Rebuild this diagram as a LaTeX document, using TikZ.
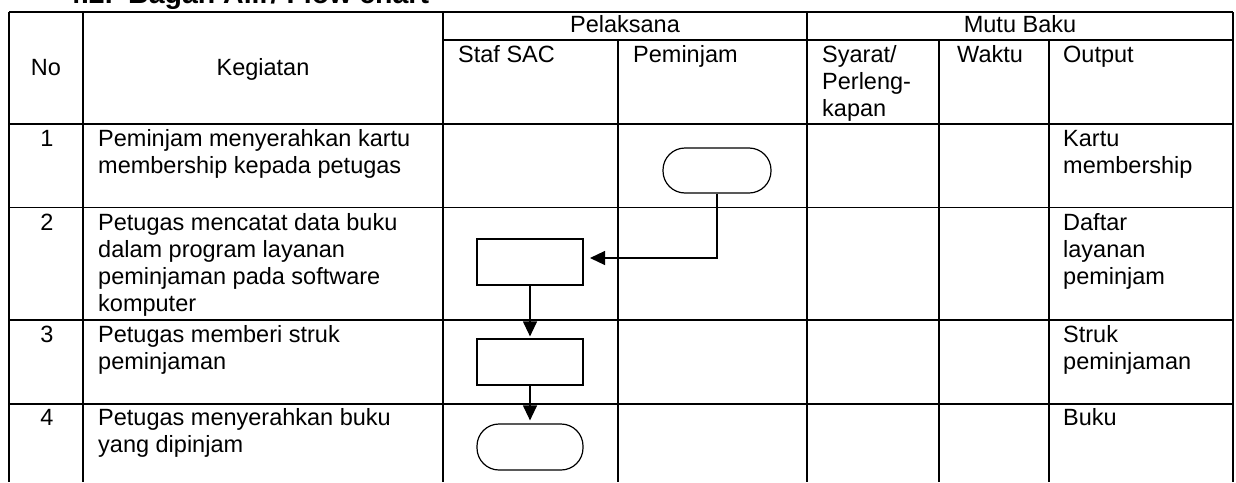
\documentclass[tikz,border=0pt]{standalone}
\usepackage{fontspec}
\setmainfont{Liberation Sans}
\usetikzlibrary{arrows.meta}
\newcommand\mytextlines[1]{\vtop{\baselineskip=27pt\halign{##\hfil\cr#1\crcr}}}
\begin{document}
\begin{tikzpicture}[x=1pt,y=-1pt,
  grid/.style={line width=1.6pt},
  txt/.style={anchor=base west, inner sep=0pt, font=\fontsize{23.5}{27}\selectfont},
  ctxt/.style={anchor=base, inner sep=0pt, font=\fontsize{23.5}{27}\selectfont},
  ttl/.style={anchor=base west, inner sep=0pt, font=\fontsize{28.5}{32}\selectfont\bfseries},
  proc/.style={draw, line width=1.2pt, minimum width=106pt, minimum height=46pt, inner sep=0pt},
  term/.style={proc, rounded corners=22pt},
  flow/.style={line width=1.2pt, -{Triangle[length=15pt,width=14pt]}}
]
\useasboundingbox (0,0) rectangle (1236,482);
% title (cut at top)
\node[ttl] (tnum) at (65,3.5) {4.2.};
\node[ttl] (ttext) at (128,3.5) {Bagan Alir/ Flow chart};
% table grid
\draw[grid] (9,12) -- (1233,12);
\draw[grid] (443,40) -- (1233,40);
\draw[grid] (9,124) -- (1233,124);
\draw[grid] (9,207.5) -- (1233,207.5);
\draw[grid] (9,320) -- (1233,320);
\draw[grid] (9,404) -- (1233,404);
\foreach \x in {9,83,443,807,1233} \draw[grid] (\x,12) -- (\x,482);
\foreach \x in {618,939,1049} \draw[grid] (\x,40) -- (\x,482);
% header
\node[ctxt] (hno) at (46,75) {No};
\node[ctxt] (hkeg) at (263,75) {Kegiatan};
\node[ctxt] (hpel) at (625,32.7) {Pelaksana};
\node[ctxt] (hmutu) at (1020,32.7) {Mutu Baku};
\node[txt] (hstaf) at (458,62.5) {Staf SAC};
\node[txt] (hpem) at (633,62.5) {Peminjam};
\node[txt] (hsya) at (822,62.5) {\mytextlines{Syarat/\cr Perleng-\cr kapan}};
\node[txt] (hwak) at (957,62.5) {Waktu};
\node[txt] (hout) at (1063,62.5) {Output};
% rows
\node[ctxt] (n1) at (47,146) {1};
\node[ctxt] (n2) at (47,230) {2};
\node[ctxt] (n3) at (47,342) {3};
\node[ctxt] (n4) at (47,425) {4};
\node[txt] (k1) at (98,146) {\mytextlines{Peminjam menyerahkan kartu\cr membership kepada petugas}};
\node[txt] (k2) at (98,230) {\mytextlines{Petugas mencatat data buku\cr dalam program layanan\cr peminjaman pada software\cr komputer}};
\node[txt] (k3) at (98,342) {\mytextlines{Petugas memberi struk\cr peminjaman}};
\node[txt] (k4) at (98,425) {\mytextlines{Petugas menyerahkan buku\cr yang dipinjam}};
\node[txt] (o1) at (1063,146) {\mytextlines{Kartu\cr membership}};
\node[txt] (o2) at (1063,230) {\mytextlines{Daftar\cr layanan\cr peminjam}};
\node[txt] (o3) at (1063,342) {\mytextlines{Struk\cr peminjaman}};
\node[txt] (o4) at (1063,425) {Buku};
% flow shapes
\node[term, minimum width=108pt, minimum height=45pt] (t1) at (717,170.5) {};
\node[proc] (p2) at (530,262) {};
\node[proc] (p3) at (530,362) {};
\node[term] (t4) at (530,447) {};
\coordinate (a1) at (590,258);
\draw[flow] (t1.south) |- (a1);
\draw[flow, shorten >=2pt] (p2.south) -- (p3.north);
\draw[flow, shorten >=3pt] (p3.south) -- (t4.north);
\end{tikzpicture}
\end{document}
